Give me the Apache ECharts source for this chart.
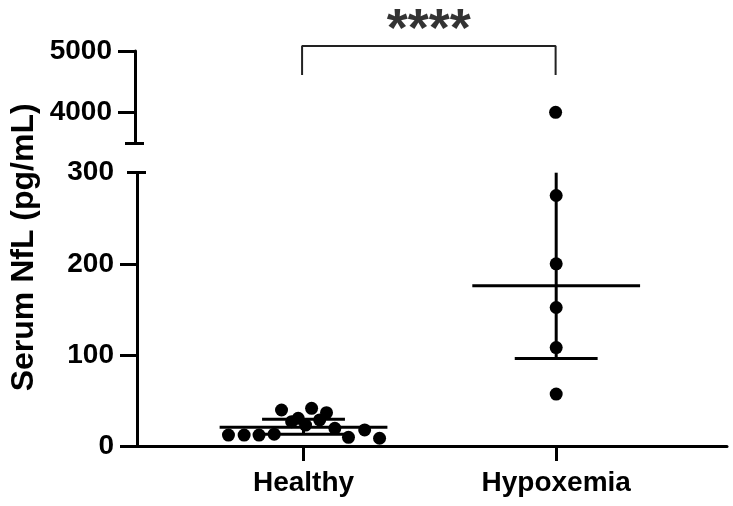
<!DOCTYPE html>
<html>
<head>
<meta charset="utf-8">
<title>Serum NfL</title>
<script src="https://cdn.jsdelivr.net/npm/echarts@6/dist/echarts.min.js"></script>
<style>
  html, body { margin: 0; padding: 0; background: #fff; }
  #chart { width: 733px; height: 506px; }
</style>
</head>
<body>
<div id="chart"></div>
<script>
// groups on the x axis (Healthy = 1, Hypoxemia = 2)
const categories = ['Healthy', 'Hypoxemia'];

// Healthy: scatter position along x (jitter) and NfL value
const healthyX = [0.703, 0.765, 0.824, 0.884, 0.913, 0.953, 0.979, 1.008, 1.032, 1.064, 1.091, 1.124, 1.178, 1.242, 1.301];
const healthyY = [12, 12, 12, 13, 39.5, 26.7, 30.4, 23, 41.4, 28.6, 36.6, 19.4, 9.5, 17.6, 8.5];

// Hypoxemia values (all on the center line)
const hypoxemiaY = [57, 108, 152, 200, 275, 4000];

// median with interquartile range per group
const medians = [20.5, 176];
const q1 = [13, 96];
const q3 = [29.5, 1206];

// broken y axis
const lowerMax = 300;
const upperMin = 3500;
const upperMax = 5000;
const lowerTicks = [0, 100, 200];
const upperTicks = [4000, 5000];

// significance bracket
const bracketLow = 4609;
const bracketHigh = 5081;
const significance = '****';

const xMin = 0.341;
const xMax = 2.676;

const lowerPoints = [];
const upperPoints = [];
healthyX.forEach((x, i) => lowerPoints.push([x, healthyY[i]]));
hypoxemiaY.forEach(v => (v > lowerMax ? upperPoints : lowerPoints).push([2, v]));

const font = "'Liberation Sans', Arial, sans-serif";
const axisLine = { show: true, lineStyle: { color: '#000', width: 3 } };
const tickLabel = { margin: 23, fontSize: 28, fontWeight: 'bold', color: '#000', formatter: v => String(v) };

const capAxis = (gridIndex, min, max, value, inside, length) => ({
    type: 'value', gridIndex, position: 'left', min, max,
    axisLine: { show: false },
    axisLabel: { show: false },
    splitLine: { show: false },
    axisTick: { show: true, inside, length, customValues: [value], lineStyle: { color: '#000', width: 3 } }
});

const option = {
    animation: false,
    textStyle: { fontFamily: font },
    grid: [
        { left: 135, right: 6, top: 51, height: 92 },
        { left: 135, right: 6, top: 172.7, bottom: 60 }
    ],
    xAxis: [
        { type: 'value', gridIndex: 0, min: xMin, max: xMax, show: false },
        {
            type: 'value', gridIndex: 1, min: xMin, max: xMax,
            axisLine,
            splitLine: { show: false },
            axisTick: { show: true, length: 15, customValues: [1, 2], lineStyle: { color: '#000', width: 3 } },
            axisLabel: {
                customValues: [1, 2],
                formatter: v => categories[Math.round(v) - 1],
                margin: 23, fontSize: 28, fontWeight: 'bold', color: '#000'
            }
        }
    ],
    yAxis: [
        {
            type: 'value', gridIndex: 0, min: upperMin, max: upperMax,
            axisLine,
            splitLine: { show: false },
            axisTick: { show: true, length: 17, customValues: upperTicks, lineStyle: { color: '#000', width: 3 } },
            axisLabel: Object.assign({ customValues: upperTicks }, tickLabel)
        },
        {
            type: 'value', gridIndex: 1, min: 0, max: lowerMax, interval: 100,
            axisLine,
            splitLine: { show: false },
            axisTick: { show: true, length: 17, customValues: lowerTicks, lineStyle: { color: '#000', width: 3 } },
            axisLabel: tickLabel,
            name: 'Serum NfL (pg/mL)',
            nameLocation: 'middle',
            nameGap: 97,
            nameTextStyle: { fontSize: 32, fontWeight: 'bold', color: '#000', padding: [0, 0, 0, 124] }
        },
        capAxis(0, upperMin, upperMax, upperMin, false, 10),
        capAxis(0, upperMin, upperMax, upperMin, true, 9),
        capAxis(1, 0, lowerMax, lowerMax, false, 10),
        capAxis(1, 0, lowerMax, lowerMax, true, 9)
    ],
    series: [
        {
            // median + IQR bars
            type: 'custom',
            xAxisIndex: 1, yAxisIndex: 1,
            clip: false,
            silent: true,
            data: medians.map((m, i) => [i + 1, m, q1[i], q3[i]]),
            renderItem: (params, api) => {
                const x = api.value(0);
                const med = api.coord([x, api.value(1)]);
                const lo = api.coord([x, api.value(2)]);
                const hiVal = api.value(3);
                const hi = api.coord([x, Math.min(hiVal, lowerMax)]);
                const half = api.size([0.332, 0])[0];
                const cap = api.size([0.164, 0])[0];
                const style = { stroke: '#000', lineWidth: 3 };
                const children = [
                    { type: 'line', shape: { x1: med[0] - half, y1: med[1], x2: med[0] + half, y2: med[1] }, style },
                    { type: 'line', shape: { x1: lo[0], y1: lo[1], x2: hi[0], y2: hi[1] }, style },
                    { type: 'line', shape: { x1: lo[0] - cap, y1: lo[1], x2: lo[0] + cap, y2: lo[1] }, style }
                ];
                if (hiVal <= lowerMax) {
                    children.push({ type: 'line', shape: { x1: hi[0] - cap, y1: hi[1], x2: hi[0] + cap, y2: hi[1] }, style });
                }
                return { type: 'group', children };
            }
        },
        {
            type: 'scatter',
            xAxisIndex: 1, yAxisIndex: 1,
            symbolSize: 13,
            itemStyle: { color: '#000', opacity: 1 },
            data: lowerPoints
        },
        {
            type: 'scatter',
            xAxisIndex: 0, yAxisIndex: 0,
            symbolSize: 13,
            itemStyle: { color: '#000', opacity: 1 },
            data: upperPoints
        },
        {
            // significance bracket
            type: 'line',
            xAxisIndex: 0, yAxisIndex: 0,
            clip: false,
            silent: true,
            symbol: 'none',
            lineStyle: { color: '#222', width: 2 },
            data: [[1, bracketLow], [1, bracketHigh], [2, bracketHigh], [2, bracketLow]]
        },
        {
            type: 'scatter',
            xAxisIndex: 0, yAxisIndex: 0,
            clip: false,
            silent: true,
            symbolSize: 0,
            data: [[1.5, bracketHigh]],
            label: {
                show: true, position: 'inside', formatter: significance,
                offset: [0, -15], fontSize: 54, fontWeight: 'bold', color: '#000'
            }
        }
    ]
};

const myChart = echarts.init(document.querySelector('#chart'));
myChart.setOption(option);
</script>
</body>
</html>
